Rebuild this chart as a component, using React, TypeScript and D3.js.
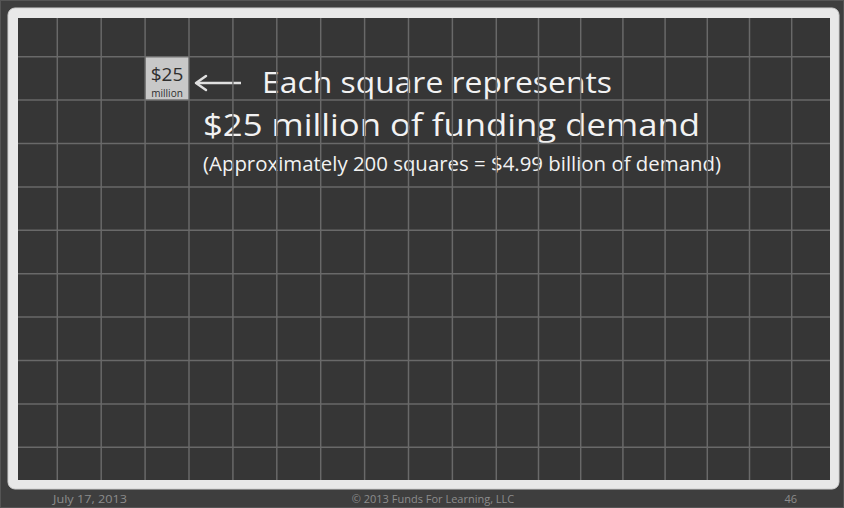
import React from "react";
import * as d3 from "d3";

const W = 844;
const H = 508;

// grid line indices
const colLines = d3.range(18);
const rowLines = d3.range(10);

const highlight = { col: 2, row: 0, big: "$25", small: "million" };

const headline1 = "Each square represents";
const headline2 = "$25 million of funding demand";
const subline = "(Approximately 200 squares = $4.99 billion of demand)";

const footerLeft = "July 17, 2013";
const footerCenter = "© 2013 Funds For Learning, LLC";
const footerRight = "46";

const FONT = "'Open Sans', Lato, sans-serif";

export default function App() {
  const inner = { x0: 18, y0: 18, x1: 830, y1: 480 };
  const x = d3.scaleLinear().domain([0, 10, 17]).range([57.3, 496.3, 791.7]);
  const y = d3.scaleLinear().domain([0, 9]).range([56.7, 447.3]);

  const hx0 = x(highlight.col);
  const hx1 = x(highlight.col + 1);
  const hy0 = y(highlight.row);
  const hy1 = y(highlight.row + 1);

  const arrowY = 83;
  const arrowPath = d3.path();
  arrowPath.moveTo(241, arrowY);
  arrowPath.lineTo(197, arrowY);
  const headPath = d3.path();
  headPath.moveTo(206, arrowY - 7);
  headPath.lineTo(196, arrowY);
  headPath.lineTo(206, arrowY + 7);

  return (
    <svg
      width={W}
      height={H}
      style={{ position: "fixed", left: 0, top: 0, display: "block" }}
      fontFamily={FONT}
    >
      <rect x={0} y={0} width={W} height={H} fill="#3e3e3e" />
      <rect x={0.5} y={0.5} width={W - 1} height={H - 1} fill="none" stroke="#555" />
      {/* frame */}
      <rect x={8} y={8} width={831} height={481} rx={7} fill="#e8e8e8" stroke="#d0d0d0" />
      <rect x={inner.x0} y={inner.y0} width={inner.x1 - inner.x0} height={inner.y1 - inner.y0} fill="#363636" />

      {/* highlighted square */}
      <rect x={hx0} y={hy0} width={hx1 - hx0} height={hy1 - hy0} fill="#c8c8c8" />
      <text x={(hx0 + hx1) / 2} y={hy0 + 24} textAnchor="middle" fontSize={19} fill="#2e2e2e">
        {highlight.big}
      </text>
      <text x={(hx0 + hx1) / 2} y={hy0 + 40} textAnchor="middle" fontSize={10} fill="#2e2e2e">
        {highlight.small}
      </text>

      {/* arrow */}
      <path d={arrowPath.toString()} stroke="#e0e0e0" strokeWidth={2.5} fill="none" />
      <path d={headPath.toString()} stroke="#e0e0e0" strokeWidth={2.5} fill="none" strokeLinecap="round" strokeLinejoin="round" />

      {/* headings */}
      <text x={262} y={93} fontSize={29.5} fill="#f2f2f2" textLength={350} lengthAdjust="spacingAndGlyphs">
        {headline1}
      </text>
      <text x={203} y={136} fontSize={30.5} fill="#f2f2f2" textLength={497} lengthAdjust="spacingAndGlyphs">
        {headline2}
      </text>
      <text x={203} y={171} fontSize={19.5} fill="#f2f2f2" textLength={518} lengthAdjust="spacingAndGlyphs">
        {subline}
      </text>

      {/* grid lines */}
      <g stroke="#6c6c6c" strokeWidth={1.5} opacity={0.95}>
        {colLines.map((c) => (
          <line key={"c" + c} x1={x(c)} x2={x(c)} y1={inner.y0} y2={inner.y1} />
        ))}
        {rowLines.map((r) => (
          <line key={"r" + r} x1={inner.x0} x2={inner.x1} y1={y(r)} y2={y(r)} />
        ))}
      </g>

      {/* footer */}
      <g fontSize={11} fill="#8c8c8c">
        <text x={53} y={503} textLength={74} lengthAdjust="spacingAndGlyphs">{footerLeft}</text>
        <text x={433} y={503} textAnchor="middle">{footerCenter}</text>
        <text x={797} y={503} textAnchor="end">{footerRight}</text>
      </g>
    </svg>
  );
}
